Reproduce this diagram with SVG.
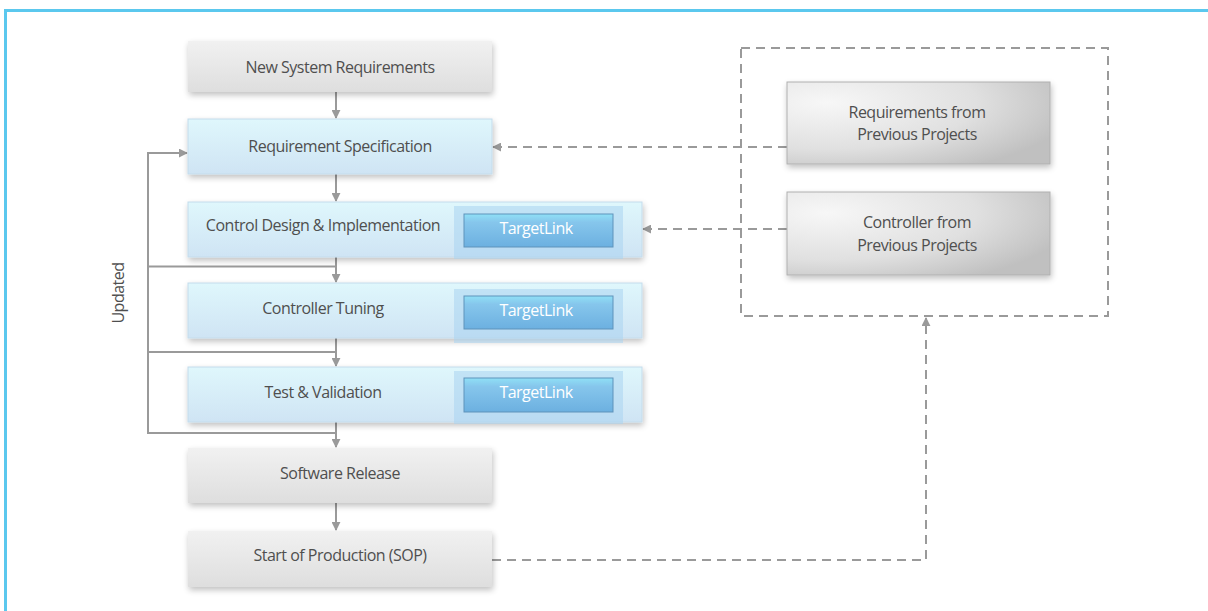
<svg xmlns="http://www.w3.org/2000/svg" width="1208" height="611" viewBox="0 0 1208 611">
<defs>
<linearGradient id="gGrey" x1="0" y1="0" x2="0" y2="1">
<stop offset="0" stop-color="#f1f1f1"/><stop offset="1" stop-color="#dedede"/>
</linearGradient>
<radialGradient id="gGrey2" cx="0.15" cy="0.25" r="0.95">
<stop offset="0" stop-color="#f7f7f7"/><stop offset="0.6" stop-color="#e0e0e0"/><stop offset="1" stop-color="#c0c0c0"/>
</radialGradient>
<linearGradient id="gBlue" x1="0" y1="0" x2="0" y2="1">
<stop offset="0" stop-color="#dff7fc"/><stop offset="1" stop-color="#cfe4f4"/>
</linearGradient>
<linearGradient id="gBtn" x1="0" y1="0" x2="0" y2="1">
<stop offset="0" stop-color="#8fe0f6"/><stop offset="0.25" stop-color="#86c6ec"/><stop offset="1" stop-color="#6cb0e0"/>
</linearGradient>
<filter id="sh" x="-10%" y="-20%" width="125%" height="160%">
<feGaussianBlur in="SourceAlpha" stdDeviation="3"/>
<feOffset dx="1" dy="3" result="b"/>
<feComponentTransfer><feFuncA type="linear" slope="0.25"/></feComponentTransfer>
<feMerge><feMergeNode/><feMergeNode in="SourceGraphic"/></feMerge>
</filter>
<marker id="ah" viewBox="0 0 10 10" refX="9" refY="5" markerWidth="9" markerHeight="9" markerUnits="userSpaceOnUse" orient="auto">
<path d="M0,0 L10,5 L0,10 z" fill="#9a9a9a"/>
</marker>
</defs>
<style>
.t{font-family:"Open Sans","Noto Sans",sans-serif;font-size:16px;letter-spacing:-0.5px;fill:#4f4f4f;text-anchor:middle;dominant-baseline:central}
.tw{font-family:"Open Sans","Noto Sans",sans-serif;font-size:16px;letter-spacing:-0.5px;fill:#ffffff;text-anchor:middle;dominant-baseline:central}
.grey{fill:url(#gGrey);filter:url(#sh)}
.grey2{fill:url(#gGrey2);stroke:#b0b0b0;stroke-width:1;filter:url(#sh)}
.blue{fill:url(#gBlue);stroke:#c4dcec;stroke-width:1;filter:url(#sh)}
.cont{fill:#a9d3f0;fill-opacity:0.55}
.btn{fill:url(#gBtn);stroke:#5f93bb;stroke-width:1}
.ln{fill:none;stroke:#9a9a9a;stroke-width:2}
.ds{fill:none;stroke:#9a9a9a;stroke-width:2;stroke-dasharray:9 6}
</style>
<rect width="1208" height="611" fill="#ffffff"/>
<path d="M5.5,611 L5.5,10.5 L1208,10.5" fill="none" stroke="#5bc8ee" stroke-width="3"/>

<g id="container">
<rect x="741" y="48" width="367" height="268" class="ds"/>
</g>

<g id="connectors">
<line x1="336" y1="92" x2="336" y2="118" class="ln" marker-end="url(#ah)"/>
<line x1="336" y1="174" x2="336" y2="201" class="ln" marker-end="url(#ah)"/>
<line x1="336" y1="257" x2="336" y2="282" class="ln" marker-end="url(#ah)"/>
<line x1="336" y1="338" x2="336" y2="366" class="ln" marker-end="url(#ah)"/>
<line x1="336" y1="422" x2="336" y2="447" class="ln" marker-end="url(#ah)"/>
<line x1="336" y1="503" x2="336" y2="530" class="ln" marker-end="url(#ah)"/>
<path d="M336,266.5 L148,266.5 M336,352 L148,352 M336,433 L148,433 L148,153 L187,153" class="ln" marker-end="url(#ah)"/>
<line x1="787" y1="147" x2="493" y2="147" class="ds" marker-end="url(#ah)"/>
<line x1="787" y1="229" x2="643" y2="229" class="ds" marker-end="url(#ah)"/>
<path d="M492,560 L926,560 L926,318" class="ds" marker-end="url(#ah)"/>
</g>

<text class="t" transform="translate(118,293) rotate(-90)" text-anchor="middle">Updated</text>

<g id="n1"><rect x="188" y="41" width="304" height="51" class="grey"/><text class="t" x="340" y="67">New System Requirements</text></g>
<g id="n2"><rect x="188" y="119" width="304" height="55" class="blue"/><text class="t" x="340" y="146">Requirement Specification</text></g>
<g id="n3"><rect x="188" y="202" width="454" height="55" class="blue"/><rect x="454" y="206" width="169" height="53" class="cont"/><rect x="464" y="214" width="149" height="33" class="btn"/><text class="t" x="323" y="225">Control Design &amp; Implementation</text><text class="tw" x="536" y="228">TargetLink</text></g>
<g id="n4"><rect x="188" y="283" width="454" height="55" class="blue"/><rect x="454" y="289" width="169" height="54" class="cont"/><rect x="464" y="296" width="149" height="33" class="btn"/><text class="t" x="323" y="308">Controller Tuning</text><text class="tw" x="536" y="310">TargetLink</text></g>
<g id="n5"><rect x="188" y="367" width="454" height="55" class="blue"/><rect x="454" y="371" width="169" height="53" class="cont"/><rect x="464" y="378" width="149" height="34" class="btn"/><text class="t" x="323" y="392">Test &amp; Validation</text><text class="tw" x="536" y="392">TargetLink</text></g>
<g id="n6"><rect x="188" y="448" width="304" height="55" class="grey"/><text class="t" x="340" y="473">Software Release</text></g>
<g id="n7"><rect x="188" y="531" width="304" height="56" class="grey"/><text class="t" x="340" y="555">Start of Production (SOP)</text></g>
<g id="n8"><rect x="787" y="82" width="263" height="82" class="grey2"/><text class="t" x="917" y="112">Requirements from</text><text class="t" x="917" y="134">Previous Projects</text></g>
<g id="n9"><rect x="787" y="192" width="263" height="83" class="grey2"/><text class="t" x="917" y="222">Controller from</text><text class="t" x="917" y="245">Previous Projects</text></g>
</svg>
